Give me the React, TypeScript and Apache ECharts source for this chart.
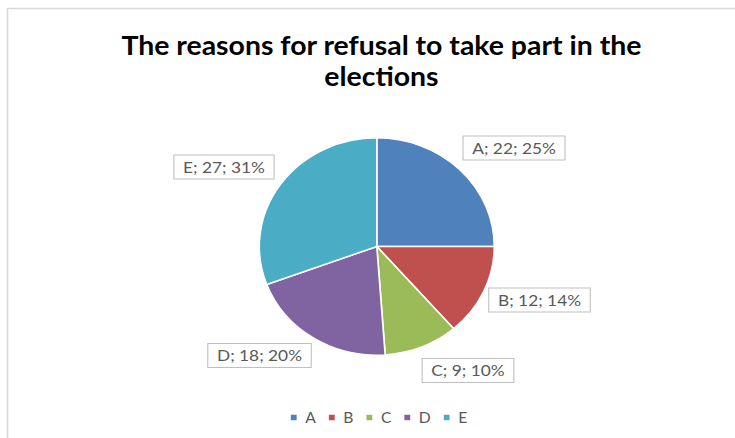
import React, { useEffect, useRef } from "react";
import * as echarts from "echarts";

// ---- data ----
const categories = ["A", "B", "C", "D", "E"];
const values = [22, 12, 9, 18, 27];
const colors = ["#4F81BD", "#C0504D", "#9BBB59", "#8064A2", "#4BACC6"];
const titleText = "The reasons for refusal to take part in the\nelections";

// ---- layout (image pixel coordinates) ----
const S = 1.081; // horizontal stretch of the reference picture
const W = 735 / S;
const H = 438;
const labelCenters: [number, number][] = [
  [514, 148],
  [539.5, 300],
  [468, 370.5],
  [259.5, 355.5],
  [224, 167],
];

export default function App() {
  const ref = useRef<HTMLDivElement>(null);
  useEffect(() => {
    if (!ref.current) return;
    const chart = echarts.init(ref.current, null, { renderer: "svg" });
    const total = values.reduce((a, b) => a + b, 0);
    chart.setOption({
      animation: false,
      backgroundColor: "#ffffff",
      title: {
        text: titleText,
        left: 376 / S,
        textAlign: "center",
        top: 24,
        textStyle: {
          fontFamily: "Lato",
          fontWeight: "bold",
          fontSize: 26.3,
          color: "#000000",
          lineHeight: 31,
        },
      },
      legend: {
        data: categories,
        left: 262,
        top: 405,
        orient: "horizontal",
        icon: "rect",
        itemWidth: 7.4,
        itemHeight: 7.4,
        itemGap: 10,
        textStyle: { fontFamily: "Lato", fontSize: 14.5, color: "#595959", padding: [0, 0, 0, 2] },
      },
      graphic: [
        {
          type: "rect",
          shape: { x: 7.5 / S, y: 8.5, width: 2000, height: 1000 },
          style: { fill: "none", stroke: "#d9d9d9", lineWidth: 1.5 },
          silent: true,
        },
      ],
      series: [
        {
          type: "pie",
          center: [376.8 / S, 246.5],
          radius: 108.7,
          startAngle: 90,
          clockwise: true,
          avoidLabelOverlap: false,
          itemStyle: { borderColor: "#ffffff", borderWidth: 1.5 },
          label: {
            show: true,
            position: "outside",
            formatter: (p: any) =>
              `${p.name}; ${p.value}; ${Math.round((p.value / total) * 100)}%`,
            fontFamily: "Lato",
            fontSize: 16,
            color: "#595959",
            backgroundColor: "#ffffff",
            borderColor: "#bfbfbf",
            borderWidth: 1,
            padding: [4, 8, 3, 8],
          },
          labelLine: { show: false },
          labelLayout: (params: any) => {
            const c = labelCenters[params.dataIndex];
            return { x: c[0] / S, y: c[1], align: "center", verticalAlign: "middle" };
          },
          emphasis: { disabled: true },
          data: categories.map((name, i) => ({
            name,
            value: values[i],
            itemStyle: { color: colors[i] },
          })),
        },
      ],
    });
    return () => chart.dispose();
  }, []);
  return (
    <div
      ref={ref}
      style={{
        position: "fixed",
        left: 0,
        top: 0,
        width: W,
        height: H,
        transform: `scaleX(${S})`,
        transformOrigin: "0 0",
      }}
    />
  );
}
